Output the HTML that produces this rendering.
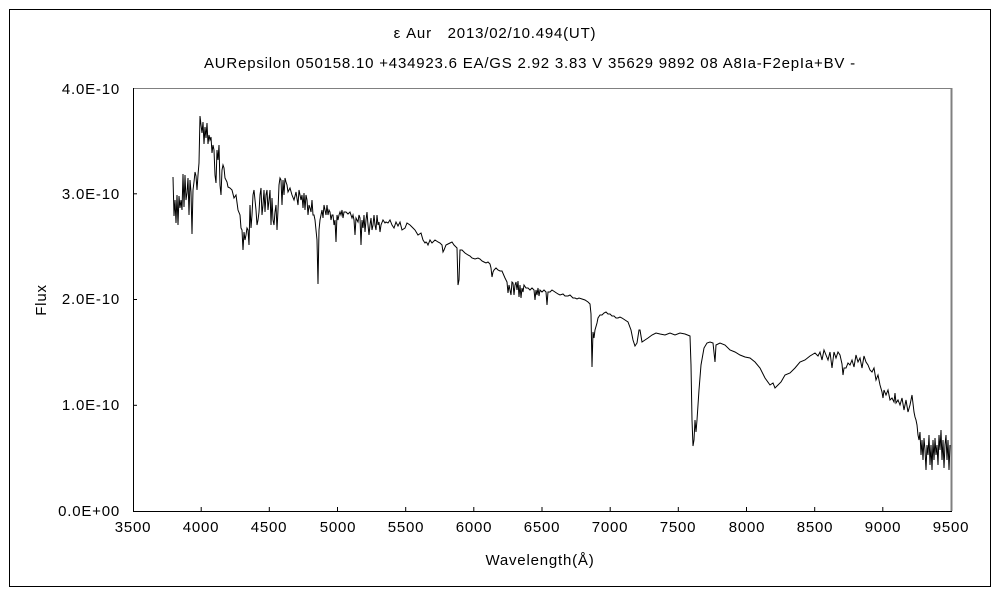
<!DOCTYPE html>
<html><head><meta charset="utf-8"><style>
body{margin:0;background:#fff}
svg text{font-family:"Liberation Sans","Noto Sans CJK JP",sans-serif;font-size:15px;letter-spacing:0.8px;fill:#000}
</style></head><body>
<svg width="1000" height="600" viewBox="0 0 1000 600" xmlns="http://www.w3.org/2000/svg">
<rect x="0" y="0" width="1000" height="600" fill="#fff"/>
<rect x="9.5" y="9.5" width="981" height="577" fill="none" stroke="#000" stroke-width="1"/>
<text x="495" y="38" text-anchor="middle">ε Aur　2013/02/10.494(UT)</text>
<text x="530" y="68" text-anchor="middle">AURepsilon 050158.10 +434923.6 EA/GS 2.92 3.83 V 35629 9892 08 A8Ia-F2epIa+BV -</text>
<line x1="133" y1="88.5" x2="951" y2="88.5" stroke="#808080"/>
<line x1="951.5" y1="88" x2="951.5" y2="511" stroke="#808080" stroke-width="2"/>
<line x1="133.5" y1="88" x2="133.5" y2="512" stroke="#000"/>
<line x1="133" y1="511.5" x2="952" y2="511.5" stroke="#000"/>
<g stroke="#000">
<line x1="201.2" y1="511" x2="201.2" y2="507"/><line x1="269.3" y1="511" x2="269.3" y2="507"/><line x1="337.5" y1="511" x2="337.5" y2="507"/><line x1="405.7" y1="511" x2="405.7" y2="507"/><line x1="473.8" y1="511" x2="473.8" y2="507"/><line x1="542" y1="511" x2="542" y2="507"/><line x1="610.2" y1="511" x2="610.2" y2="507"/><line x1="678.3" y1="511" x2="678.3" y2="507"/><line x1="746.5" y1="511" x2="746.5" y2="507"/><line x1="814.7" y1="511" x2="814.7" y2="507"/><line x1="882.8" y1="511" x2="882.8" y2="507"/>
<line x1="133" y1="405.3" x2="137" y2="405.3"/><line x1="133" y1="299.5" x2="137" y2="299.5"/><line x1="133" y1="193.8" x2="137" y2="193.8"/>
</g>
<g text-anchor="end">
<text x="120" y="516">0.0E+00</text><text x="120" y="410">1.0E-10</text><text x="120" y="304">2.0E-10</text><text x="120" y="199">3.0E-10</text><text x="120" y="94">4.0E-10</text>
</g>
<g text-anchor="middle">
<text x="133" y="532">3500</text><text x="201" y="532">4000</text><text x="269" y="532">4500</text><text x="338" y="532">5000</text><text x="406" y="532">5500</text><text x="474" y="532">6000</text><text x="542" y="532">6500</text><text x="610" y="532">7000</text><text x="678" y="532">7500</text><text x="747" y="532">8000</text><text x="815" y="532">8500</text><text x="883" y="532">9000</text><text x="951" y="532">9500</text>
<text x="540" y="565">Wavelength(Å)</text>
</g>
<text x="46" y="300" text-anchor="middle" transform="rotate(-90 46 300)">Flux</text>
<polyline fill="none" stroke="#000" stroke-width="1" points="173,177 174,216 175,200 176,223 177,195 178,225 179,196 180,208 181,200 182,210 183,174 184,207 185,175 186,200 187,193 188,178 189,215 190,180 191,192 192,234 193,190 194,182 195,172 196,176 197,190 198,175 199,163 200,116 201,125 202,133 203,122 204,144 205,127 206,138 207,123 208,144 209,135 210,140 211,137 212,153 213,145 214,150 215,175 216,183 217,150 218,160 219,145 220,185 221,195 222,170 223,165 224,168 225,178 227,182 228,187 230,188 232,190 234,198 236,195 238,210 240,215 241,228 242,230 243,250 244,232 245,240 246,235 247,228 248,230 249,245 250,205 251,228 252,215 253,195 254,190 255,200 256,210 257,225 258,220 259,212 260,195 261,188 262,215 263,205 264,190 265,212 266,195 267,190 268,210 269,200 270,190 271,225 272,198 273,220 274,225 275,212 276,205 277,230 278,210 279,185 280,178 281,180 282,205 283,180 284,195 285,178 286,182 287,185 288,192 290,188 292,195 294,200 296,192 298,205 299,190 300,195 301,200 302,195 303,208 304,193 305,210 306,195 307,200 308,215 309,205 310,208 311,212 312,200 313,215 314,215 315,220 316,230 317,240 318,284 319,230 320,220 321,215 322,210 323,218 324,205 325,210 326,215 327,205 328,215 329,210 330,212 331,220 332,215 333,215 334,225 335,220 336,242 337,215 338,220 339,215 340,212 341,215 342,210 343,218 344,212 346,212 348,214 350,212 352,218 353,215 354,220 355,235 356,218 357,220 358,222 359,215 360,218 361,245 362,220 363,228 364,215 365,232 366,220 367,212 368,225 369,235 370,225 371,218 372,230 373,225 374,215 375,225 376,230 377,215 378,225 379,222 380,232 381,225 383,220 385,223 386,222 388,223 390,220 392,225 394,228 396,222 398,226 400,222 402,230 405,228 407,223 410,225 413,228 415,230 418,235 421,233 423,240 425,243 426,242 427,243 428,245 430,240 432,243 435,240 438,242 440,243 442,245 443,252 444,250 446,245 448,244 450,243 452,242 454,245 456,247 457,248 458,285 459,280 460,250 462,250 465,253 468,255 470,256 472,258 475,259 478,258 480,259 482,261 484,262 486,263 488,262 490,264 491,268 492,277 493,272 494,270 496,268 498,270 500,271 502,271 505,278 507,282 508,293 509,285 510,290 511,295 512,282 513,283 514,295 515,285 516,282 517,290 518,281 519,297 520,285 521,298 522,288 523,292 524,285 526,288 528,288 530,290 532,288 534,290 535,300 536,290 537,295 538,288 539,296 540,290 542,292 544,290 546,292 547,305 548,292 550,292 552,290 555,292 558,294 560,295 563,294 565,296 568,296 570,295 573,298 575,298 577,299 579,298 582,299 585,300 588,302 590,304 591,314 592,367 593,332 594,338 595,330 597,323 598,318 600,315 602,315 604,313 606,312 608,314 610,314 612,316 614,316 616,318 618,318 620,317 622,318 625,320 628,322 631,330 633,340 635,346 637,343 639,330 640,330 642,342 645,340 648,338 652,335 656,333 660,334 665,335 670,333 675,335 680,333 685,334 690,336 691,365 692,420 693,446 694,440 695,420 696,432 697,420 699,390 701,365 704,348 707,343 710,342 713,343 715,362 716,345 720,343 725,345 730,350 735,352 740,355 745,357 750,358 755,362 760,368 765,378 770,385 773,383 775,388 778,385 781,382 785,375 790,373 795,368 800,362 805,360 810,356 815,353 818,356 820,352 822,360 824,350 826,355 828,360 830,352 832,368 834,352 836,358 838,352 840,355 842,364 843,375 844,368 846,368 848,363 850,365 852,360 854,367 856,355 858,362 860,358 862,368 864,356 866,362 868,365 870,370 872,372 874,368 876,380 878,375 880,385 882,392 883,398 884,390 886,395 888,390 890,400 892,398 894,402 895,393 896,403 898,400 900,405 902,398 904,410 906,400 908,412 910,405 912,395 914,412 915,417 916,420 917,425 918,435 919,440 920,432 921,455 922,440 923,460 924,438 925,450 926,470 927,445 928,455 929,435 930,465 931,445 932,470 933,440 934,460 935,438 936,455 937,445 938,465 939,435 940,450 941,430 942,460 943,440 944,468 945,445 946,435 947,460 948,440 949,470 950,445"/>
</svg>
</body></html>
